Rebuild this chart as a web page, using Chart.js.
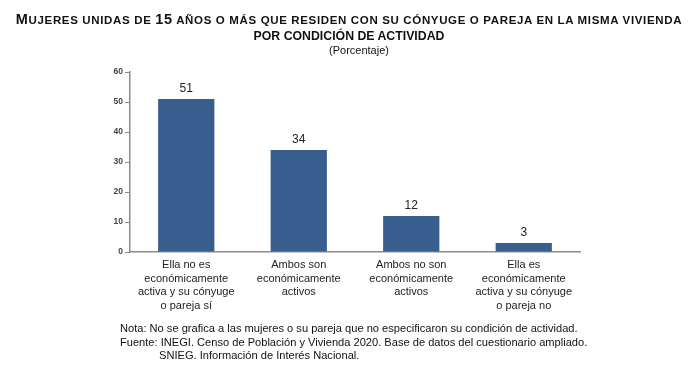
<!DOCTYPE html>
<html>
<head>
<meta charset="utf-8">
<script src="https://cdn.jsdelivr.net/npm/chart.js@4.4.1/dist/chart.umd.min.js"></script>
<style>
  html, body { margin: 0; padding: 0; background: #fff; }
  #wrap { position: relative; width: 700px; height: 372px; font-family: "Liberation Sans", Arial, sans-serif; color: #111; }
  #chart { position: absolute; left: 0; top: 0; }
  .title { position: absolute; left: 0; width: 698px; text-align: center; font-weight: bold; font-size: 11.5px; white-space: nowrap; }
  .title .big { font-size: 14.5px; }
  .sub { position: absolute; left: 0; width: 718px; text-align: center; font-size: 11px; }
  .note { position: absolute; font-size: 11.1px; white-space: nowrap; color: #111; }
</style>
</head>
<body>
<div id="wrap">
  <canvas id="chart" width="700" height="372"></canvas>
  <div class="title" style="top:11px; letter-spacing:0.65px;"><span class="big">M</span>UJERES UNIDAS DE <span class="big">15</span> AÑOS O MÁS QUE RESIDEN CON SU CÓNYUGE O PAREJA EN LA MISMA VIVIENDA</div>
  <div class="title" style="top:29px; font-size:12.3px;">POR CONDICIÓN DE ACTIVIDAD</div>
  <div class="sub" style="top:44px;">(Porcentaje)</div>
  <div class="note" style="left:120px; top:322px;">Nota: No se grafica a las mujeres o su pareja que no especificaron su condición de actividad.</div>
  <div class="note" style="left:120px; top:336px;">Fuente: INEGI. Censo de Población y Vivienda 2020. Base de datos del cuestionario ampliado.</div>
  <div class="note" style="left:159px; top:349px;">SNIEG. Información de Interés Nacional.</div>
</div>
<script>
// categories (multi-line labels) and values
const categories = [
    ['Ella no es', 'económicamente', 'activa y su cónyuge', 'o pareja sí'],
    ['Ambos son', 'económicamente', 'activos'],
    ['Ambos no son', 'económicamente', 'activos'],
    ['Ella es', 'económicamente', 'activa y su cónyuge', 'o pareja no']
];
const porcentaje = [51, 34, 12, 3];
const yTicks = [0, 10, 20, 30, 40, 50, 60];

const barColor = '#375e8f';

// value labels above bars
const valueLabels = {
    id: 'valueLabels',
    afterDatasetsDraw(chart) {
        const ctx = chart.ctx;
        const meta = chart.getDatasetMeta(0);
        ctx.save();
        ctx.font = '12px "Liberation Sans", Arial, sans-serif';
        ctx.fillStyle = '#222';
        ctx.textAlign = 'center';
        ctx.textBaseline = 'bottom';
        meta.data.forEach((bar, i) => {
            ctx.fillText(String(porcentaje[i]), bar.x, bar.y - 4);
        });
        ctx.restore();
    }
};

new Chart(document.getElementById('chart').getContext('2d'), {
    type: 'bar',
    data: {
        labels: categories,
        datasets: [{
            data: porcentaje,
            backgroundColor: barColor,
            borderWidth: 0,
            barPercentage: 0.5,
            categoryPercentage: 1.0
        }]
    },
    options: {
        responsive: false,
        animation: false,
        layout: { padding: { left: 100, right: 120, top: 72, bottom: 0 } },
        plugins: { legend: { display: false }, tooltip: { enabled: false } },
        scales: {
            x: {
                afterFit: (s) => { s.height = 120; },
                grid: { display: false, drawTicks: false },
                border: { color: '#8c8c8c', width: 1.5 },
                ticks: {
                    padding: 6,
                    maxRotation: 0,
                    autoSkip: false,
                    color: '#222',
                    font: { family: '"Liberation Sans", Arial, sans-serif', size: 11, lineHeight: 1.25 }
                }
            },
            y: {
                min: 0, max: 60,
                afterFit: (s) => { s.width = 30; },
                afterBuildTicks: (s) => { s.ticks = yTicks.map(v => ({ value: v })); },
                grid: { drawOnChartArea: false, drawTicks: true, tickLength: 5, color: '#8c8c8c' },
                border: { color: '#8c8c8c', width: 1.5 },
                ticks: {
                    padding: 2,
                    color: '#444',
                    font: { family: '"Liberation Sans", Arial, sans-serif', size: 8.5, weight: 'bold' }
                }
            }
        }
    },
    plugins: [valueLabels]
});
</script>
</body>
</html>
